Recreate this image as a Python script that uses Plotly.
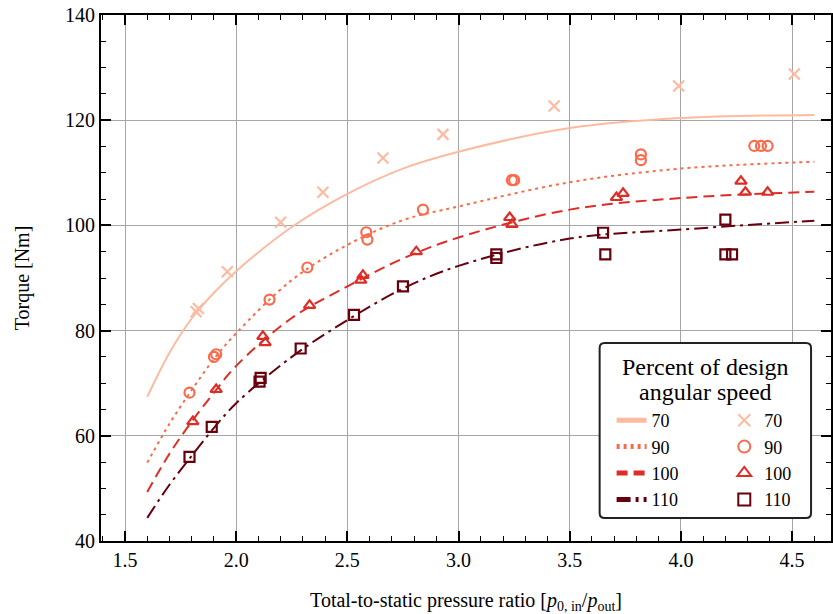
import plotly.graph_objects as go

# ---------------- data ----------------
speeds = ["70", "90", "100", "110"]
colors = ["#fcbba1", "#fb6a4a", "#de2d26", "#67000d"]

fit_x = [1.6, 1.7, 1.8, 1.9, 2.0, 2.25, 2.5, 2.75, 3.0, 3.5, 4.0, 4.6]
fit_70 = [67.4, 75.8, 82.3, 87.2, 91.3, 99.7, 106.0, 110.8, 114.0, 118.5, 120.4, 121.0]
fit_90 = [54.9, 62.3, 68.7, 74.6, 79.5, 89.6, 96.3, 101.0, 103.6, 108.2, 110.8, 112.1]
fit_100 = [49.3, 56.6, 62.7, 68.2, 73.3, 82.4, 88.4, 93.7, 97.7, 103.0, 105.2, 106.4]
fit_110 = [44.4, 50.7, 56.2, 61.5, 66.2, 75.0, 82.0, 88.0, 92.3, 97.5, 99.2, 100.9]

meas_x_70 = [1.82, 1.83, 1.96, 2.20, 2.39, 2.66, 2.93, 3.43, 3.99, 4.51]
meas_y_70 = [83.6, 84.2, 91.2, 100.6, 106.3, 112.8, 117.3, 122.7, 126.5, 128.8]
meas_x_90 = [1.79, 1.90, 1.91, 2.15, 2.32, 2.585, 2.59, 2.84, 3.24, 3.25, 3.82, 3.82, 4.33, 4.36, 4.39]
meas_y_90 = [68.2, 75.0, 75.5, 85.9, 92.0, 98.7, 97.3, 103.0, 108.6, 108.6, 113.5, 112.4, 115.1, 115.1, 115.1]
meas_x_100 = [1.805, 1.91, 2.12, 2.13, 2.33, 2.56, 2.57, 2.81, 3.23, 3.24, 3.71, 3.74, 4.27, 4.29, 4.39]
meas_y_100 = [62.7, 68.8, 78.9, 77.7, 84.8, 89.6, 90.5, 95.0, 101.5, 100.2, 105.3, 106.1, 108.4, 106.3, 106.3]
meas_x_110 = [1.79, 1.89, 2.105, 2.11, 2.29, 2.53, 2.75, 3.17, 3.17, 3.65, 3.66, 4.20, 4.20, 4.23]
meas_y_110 = [56.0, 61.7, 70.3, 71.0, 76.6, 83.0, 88.4, 94.5, 93.8, 98.6, 94.5, 101.1, 94.5, 94.5]

x_ticks = [1.5, 2.0, 2.5, 3.0, 3.5, 4.0, 4.5]
y_ticks = [40, 60, 80, 100, 120, 140]

fits = [fit_70, fit_90, fit_100, fit_110]
meas = [(meas_x_70, meas_y_70), (meas_x_90, meas_y_90),
        (meas_x_100, meas_y_100), (meas_x_110, meas_y_110)]
dashes = ["solid", "3px,4px", "11px,6px", "14px,5px,3px,5px"]
symbols = ["x-thin-open", "circle-open", "triangle-up-open", "square-open"]

FONT = "Liberation Serif, Times New Roman, serif"

fig = go.Figure()
for i, s in enumerate(speeds):
    fig.add_trace(go.Scatter(
        x=fit_x, y=fits[i], mode="lines", name=s,
        line=dict(color=colors[i], width=2, dash=dashes[i], shape="spline"),
        legend="legend",
    ))
for i, s in enumerate(speeds):
    mx, my = meas[i]
    fig.add_trace(go.Scatter(
        x=mx, y=my, mode="markers", name=s,
        marker=dict(symbol=symbols[i], size=10 if i else 11, color=colors[i],
                    line=dict(color=colors[i], width=2.2)),
        legend="legend2",
    ))

axis_common = dict(
    showline=True, linecolor="black", linewidth=2, mirror="allticks",
    ticks="inside", ticklen=10, tickwidth=1.5, tickcolor="black",
    showgrid=True, gridcolor="#a6a6a6", gridwidth=1,
    zeroline=False,
    tickfont=dict(family=FONT, size=20, color="black"),
)

fig.update_xaxes(
    range=[1.392, 4.675], tickvals=x_ticks, ticktext=[f"{v:.1f}" for v in x_ticks],
    minor=dict(ticks="inside", dtick=0.1, tick0=1.5, ticklen=5, tickwidth=1, tickcolor="black", showgrid=False),
    title=dict(text="Total-to-static pressure ratio [<i>p</i><sub>0, in</sub>/<i>p</i><sub>out</sub>]",
               font=dict(family=FONT, size=20, color="black"), standoff=25),
    **axis_common,
)
fig.update_yaxes(
    range=[40, 140], tickvals=y_ticks,
    minor=dict(ticks="inside", dtick=5, tick0=40, ticklen=5, tickwidth=1, tickcolor="black", showgrid=False),
    title=dict(text="Torque [Nm]", font=dict(family=FONT, size=20, color="black"), standoff=30),
    **axis_common,
)

# legend box (paper coordinates from pixel positions)
def px_x(p):
    return (p - 101) / 732

def px_y(p):
    return (541 - p) / 526

bx0, bx1, by0, by1, r = 601, 813, 343, 518, 5
path = (f"M {px_x(bx0 + r)} {px_y(by0)} L {px_x(bx1 - r)} {px_y(by0)} "
        f"Q {px_x(bx1)} {px_y(by0)} {px_x(bx1)} {px_y(by0 + r)} "
        f"L {px_x(bx1)} {px_y(by1 - r)} Q {px_x(bx1)} {px_y(by1)} {px_x(bx1 - r)} {px_y(by1)} "
        f"L {px_x(bx0 + r)} {px_y(by1)} Q {px_x(bx0)} {px_y(by1)} {px_x(bx0)} {px_y(by1 - r)} "
        f"L {px_x(bx0)} {px_y(by0 + r)} Q {px_x(bx0)} {px_y(by0)} {px_x(bx0 + r)} {px_y(by0)} Z")
fig.add_shape(type="path", xref="paper", yref="paper", path=path,
              line=dict(color="#222222", width=2), fillcolor="white", layer="above")
fig.add_annotation(xref="paper", yref="paper", x=px_x(707), y=px_y(367),
                   text="Percent of design", showarrow=False,
                   font=dict(family=FONT, size=24, color="black"),
                   xanchor="center", yanchor="middle")
fig.add_annotation(xref="paper", yref="paper", x=px_x(707), y=px_y(392),
                   text="angular speed", showarrow=False,
                   font=dict(family=FONT, size=24, color="black"),
                   xanchor="center", yanchor="middle")

leg_common = dict(font=dict(family=FONT, size=18, color="black"),
                  bgcolor="rgba(0,0,0,0)", borderwidth=0,
                  xanchor="left", yanchor="top", tracegroupgap=0,
                  itemsizing="constant")
fig.update_layout(
    width=833, height=614,
    margin=dict(l=101, r=0, t=15, b=73),
    plot_bgcolor="white", paper_bgcolor="white",
    font=dict(family=FONT, size=20, color="black"),
    legend=dict(x=px_x(613), y=px_y(402), **leg_common),
    legend2=dict(x=px_x(726), y=px_y(402), **leg_common),
    showlegend=True,
)

fig.write_html("out.html")
